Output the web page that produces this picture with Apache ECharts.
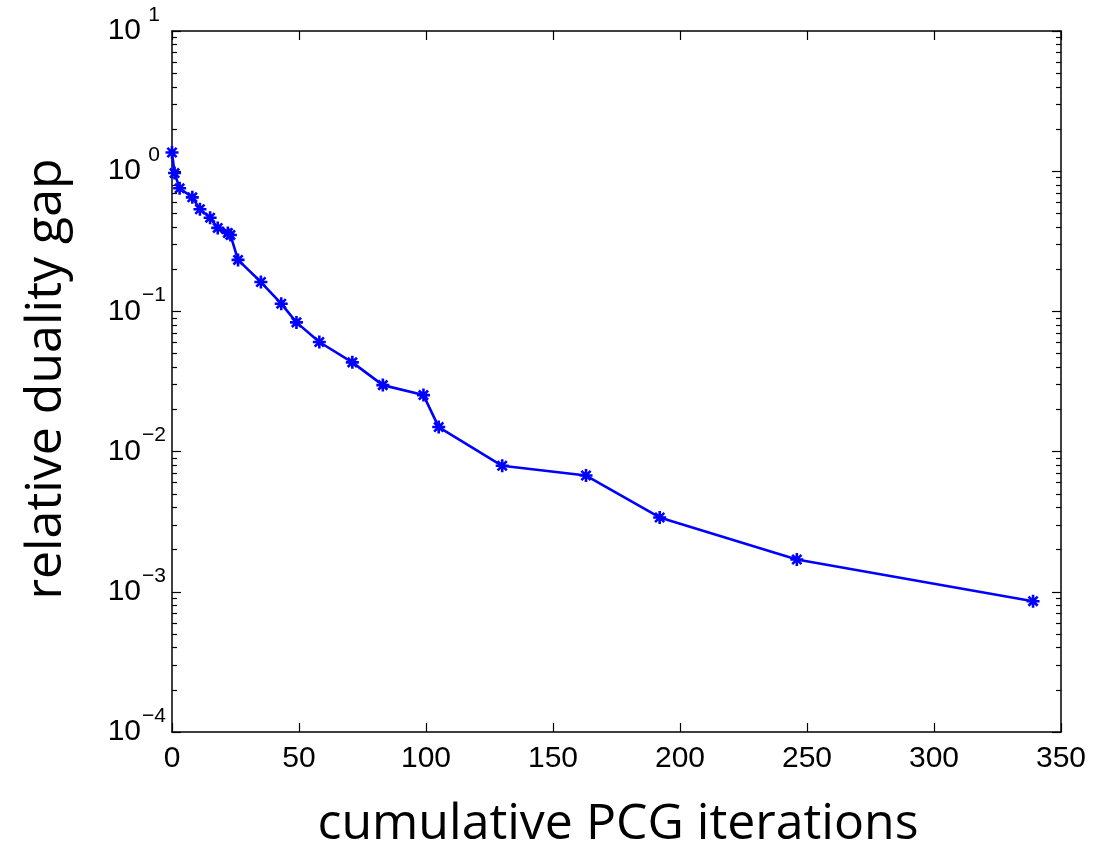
<!DOCTYPE html>
<html>
<head>
<meta charset="utf-8">
<script src="https://cdn.jsdelivr.net/npm/echarts@6/dist/echarts.min.js"></script>
<style>
html,body{margin:0;padding:0;background:#fff;}
#chart{width:1093px;height:848px;}
</style>
</head>
<body>
<div id="chart"></div>
<script>
// Data
var iterations = [0, 1, 3, 8, 11, 15, 18, 22, 23, 26, 35, 43, 49, 58, 71, 83, 99, 105, 130, 163, 192, 246, 339];
var dualityGap = [1.36, 0.97, 0.755, 0.651, 0.535, 0.466, 0.394, 0.363, 0.351, 0.233, 0.162, 0.1135, 0.0835, 0.0605, 0.0433, 0.0298, 0.0253, 0.01496, 0.00792, 0.00675, 0.00339, 0.0017, 0.000857];
var xTicks = [0, 50, 100, 150, 200, 250, 300, 350];
var yDecades = [1e-4, 1e-3, 1e-2, 1e-1, 1, 10];
var xTitle = 'cumulative PCG iterations';
var yTitle = 'relative duality gap';

var minorVals = [];
for (var d = -4; d < 1; d++) {
  for (var k = 2; k <= 9; k++) {
    minorVals.push(parseFloat((k * Math.pow(10, d)).toPrecision(6)));
  }
}

var seriesData = iterations.map(function (x, i) { return [x, dualityGap[i]]; });

var tickFont = '"Liberation Sans", Arial, Helvetica, sans-serif';
var titleFont = '"Open Sans", Lato, sans-serif';

function yAxisBase(pos, showLabel, tickVals, tickLen) {
  var ax = {
    type: 'log',
    logBase: 10,
    min: 1e-4,
    max: 10,
    position: pos,
    offset: 0,
    axisLine: { show: false, onZero: false },
    splitLine: { show: false },
    minorTick: { show: false },
    axisTick: {
      show: true,
      inside: true,
      length: tickLen,
      customValues: tickVals,
      lineStyle: { color: '#000', width: 1.2 }
    },
    axisLabel: { show: false }
  };
  if (showLabel) {
    ax.axisLine = { show: true, onZero: false, lineStyle: { color: '#000', width: 1.5 } };
    ax.axisLabel = {
      show: true,
      margin: 6,
      customValues: yDecades,
      formatter: function (v) {
        var e = Math.round(Math.log10(v));
        var s = e < 0 ? '\u2212' + (-e) : String(e);
        return '{b|10}{s|' + s + '}';
      },
      rich: {
        b: { fontSize: 30, fontFamily: tickFont, color: '#000' },
        s: { fontSize: 21, fontFamily: tickFont, color: '#000', width: 24, align: 'left', padding: [0, 0, 32, 1] }
      }
    };
  }
  return ax;
}

var rightMajor = yAxisBase('right', false, yDecades, 9);
rightMajor.axisLine = { show: true, onZero: false, lineStyle: { color: '#000', width: 1.5 } };

var option = {
  backgroundColor: '#fff',
  animation: false,
  grid: { left: 172, right: 32, top: 31, bottom: 116, containLabel: false },
  xAxis: [
    {
      type: 'value',
      min: 0,
      max: 350,
      interval: 50,
      position: 'bottom',
      offset: 0,
      axisLine: { show: true, onZero: false, lineStyle: { color: '#000', width: 1.5 } },
      axisTick: { show: true, inside: true, length: 9, lineStyle: { color: '#000', width: 1.2 } },
      axisLabel: { show: true, margin: 12, fontSize: 30, fontFamily: tickFont, color: '#000',
        customValues: xTicks },
      splitLine: { show: false }
    },
    {
      type: 'value',
      min: 0,
      max: 350,
      interval: 50,
      position: 'top',
      offset: 0,
      axisLine: { show: true, onZero: false, lineStyle: { color: '#000', width: 1.5 } },
      axisTick: { show: true, inside: true, length: 9, lineStyle: { color: '#000', width: 1.2 } },
      axisLabel: { show: false },
      splitLine: { show: false }
    }
  ],
  yAxis: [
    yAxisBase('left', true, yDecades, 9),
    yAxisBase('left', false, minorVals, 5),
    rightMajor,
    yAxisBase('right', false, minorVals, 5)
  ],
  graphic: [
    {
      type: 'text',
      x: 618,
      y: 825,
      style: { text: xTitle, fontSize: 50, fontFamily: titleFont, fill: '#000', align: 'center', verticalAlign: 'middle' }
    },
    {
      type: 'text',
      x: 47,
      y: 379,
      rotation: Math.PI / 2,
      style: { text: yTitle, fontSize: 50, fontFamily: titleFont, fill: '#000', align: 'center', verticalAlign: 'middle' }
    }
  ],
  series: [
    {
      type: 'line',
      xAxisIndex: 0,
      yAxisIndex: 0,
      data: seriesData,
      lineStyle: { color: '#0000ff', width: 2.6 },
      symbol: 'path://M0,-10L0,10M-10,0L10,0M-7.07,-7.07L7.07,7.07M-7.07,7.07L7.07,-7.07',
      symbolSize: 13,
      showSymbol: true,
      itemStyle: { color: '#0000ff', borderColor: '#0000ff', borderWidth: 2.6 },
      z: 5
    }
  ]
};

var chart = echarts.init(document.getElementById('chart'), null, { renderer: 'canvas' });
chart.setOption(option);
</script>
</body>
</html>
